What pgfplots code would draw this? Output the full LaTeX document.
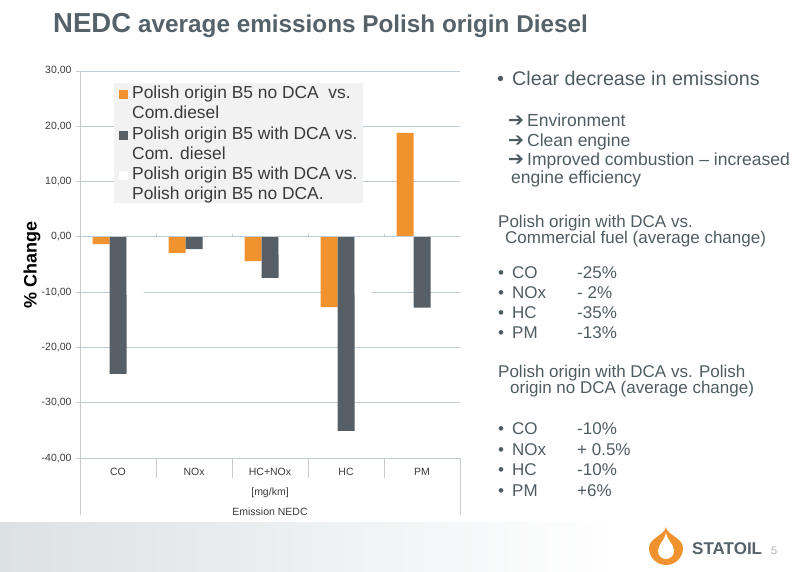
\documentclass[border=0pt]{standalone}
\usepackage{fontspec}
\setmainfont{Liberation Sans}
\newfontfamily\dejavu{DejaVu Sans}
\usepackage{pgfplots}
\pgfplotsset{compat=1.18}

\definecolor{bOrange}{HTML}{F0922E}
\definecolor{bGray}{HTML}{555F65}
\definecolor{gridc}{HTML}{BCCBD5}
\definecolor{axc}{HTML}{C5CBCF}
\definecolor{ttl}{HTML}{55626A}
\definecolor{txt}{HTML}{4E5C62}
\definecolor{lbl}{HTML}{3A3A3A}
\definecolor{legbg}{HTML}{F2F2F2}
\definecolor{band}{HTML}{DCE1E4}

\newcommand{\fs}[2]{\fontsize{#1}{#2}\selectfont}
\pgfplotsset{sqlegend/.style={legend image code/.code={\fill[##1] (0pt,3pt) rectangle (9pt,12pt);}}}

\begin{document}
\begin{tikzpicture}
% slide decorations, in image pixels (y downwards)
\begin{scope}[x=1pt,y=-1pt]
\useasboundingbox (0,0) rectangle (805,571);
\shade[left color=band, right color=white] (0,522) rectangle (620,571);
\node[anchor=base west, inner sep=0pt, text=ttl, font=\bfseries\fs{27.5}{30}] at (53,32) {NEDC};
\node[anchor=base west, inner sep=0pt, text=ttl, font=\bfseries\fs{24.3}{28}] at (138,32) {average emissions Polish origin Diesel};

% right-hand text
\begin{scope}[every node/.style={anchor=base west, inner sep=0pt, text=txt}]
\node[font=\fs{19.7}{22}] at (497,85) {•};
\node[font=\fs{19.7}{22}] at (512,85) {Clear decrease in emissions};
\foreach \t/\y in {Environment/126, Clean engine/146, Improved combustion – increased/165}{
  \node[font=\fs{19}{20}] at (508,\y) {{\dejavu\bfseries ➔}};
  \node[font=\fs{17.5}{18}] at (527,\y) {\t};
}
\node[font=\fs{17.5}{18}] at (511,183) {engine efficiency};
\node[font=\fs{17}{19}] at (498,227) {Polish origin with DCA vs.};
\node[font=\fs{17}{19}] at (505,243) {Commercial fuel (average change)};
\foreach \a/\b/\y in {CO/-25\%/278, NOx/-~2\%/298, HC/-35\%/318, PM/-13\%/338,
                       CO/-10\%/434, NOx/+ 0.5\%/455, HC/-10\%/475, PM/+6\%/496}{
  \node[font=\fs{17}{19}] at (498,\y) {•};
  \node[font=\fs{17}{19}] at (512,\y) {\a};
  \node[font=\fs{17}{19}] at (577,\y) {\b};
}
\node[font=\fs{17}{19}] at (498,377) {Polish origin with DCA vs. Polish};
\node[font=\fs{17}{19}] at (510,393) {origin no DCA (average change)};
\end{scope}

% logo
\fill[bOrange] (666,527) .. controls (665,535) and (649,538) .. (649,548)
  .. controls (649,557.4) and (656.6,565) .. (666,565)
  .. controls (675.4,565) and (683,557.4) .. (683,548)
  .. controls (683,538) and (667,535) .. (666,527) -- cycle;
\fill[white] (666,532) .. controls (665.5,540) and (658,544) .. (658,551)
  .. controls (658,555.4) and (661.6,559) .. (666,559)
  .. controls (670.4,559) and (674,555.4) .. (674,551)
  .. controls (674,544) and (666.5,540) .. (666,532) -- cycle;
\node[anchor=base west, inner sep=0pt, text=ttl, font=\bfseries\fs{17}{19}] at (692,554) {STATOIL};
\node[anchor=base west, inner sep=0pt, text=gray!60, font=\fs{11}{12}] at (771,554) {5};

% chart frame lines beyond the plot area
\draw[axc, line width=0.8pt] (80,71) -- (80,515);
\draw[axc, line width=0.8pt] (460,458) -- (460,515);
\end{scope}

\begin{axis}[
  at={(80pt,-458pt)}, anchor=south west,
  scale only axis, width=380pt, height=387pt,
  clip=false,
  ybar=0pt, bar width=17pt,
  xmin=-0.5, xmax=4.5, ymin=-40, ymax=30,
  xtick={0,1,2,3,4}, xticklabels={CO,NOx,HC+NOx,HC,PM},
  ytick={-40,-30,-20,-10,0,10,20,30},
  yticklabel={\pgfmathprintnumber[fixed,fixed zerofill,precision=2,use comma,assume math mode=true]{\tick}},
  axis x line*=bottom, axis y line*=left,
  x axis line style={draw=none},
  y axis line style={draw=none},
  xtick style={draw=none},
  ytick style={draw=axc, line width=0.8pt},
  tick align=outside, major tick length=4pt,
  ymajorgrids, grid style={draw=gridc, line width=0.9pt},
  yticklabel style={font=\fs{10.5}{12}, text=lbl, xshift=-1pt},
  xticklabel style={font=\fs{10.5}{12}, text=lbl, yshift=-3pt},
  xlabel={[mg/km]\\Emission NEDC},
  every axis x label/.style={at={(axis description cs:0.5,0)}, anchor=north, yshift=-26pt,
    align=center, font=\fs{10.5}{20}, text=lbl},
  ylabel={\% Change},
  every axis y label/.style={at={(axis description cs:-0.126,0.5)}, rotate=90, anchor=center,
    font=\bfseries\fs{18}{20}, text=black},
  every axis plot post/.append style={sqlegend},
  legend cell align=left,
  legend style={at={(axis description cs:0.0895,0.969)}, anchor=north west,
    fill=legbg, draw=none, font=\fs{17.4}{20}, text=lbl,
    inner xsep=5pt, inner ysep=1.5pt, row sep=5pt, column sep=4pt,
    nodes={inner sep=0pt}, cells={align=left}},
]
\addplot[fill=bOrange, draw=none] coordinates {(0,-1.3) (1,-2.9) (2,-4.4) (3,-12.7) (4,18.8)};
\addplot[fill=bGray, draw=none] coordinates {(0,-24.8) (1,-2.2) (2,-7.4) (3,-35.1) (4,-12.8)};
\addplot[fill=white, draw=none] coordinates {(0,-10.5) (1,0.5) (2,-3.2) (3,-10.5) (4,6)};
\addlegendentry{\strut Polish origin B5 no DCA\ \ vs.\\\strut Com.diesel}
\addlegendentry{\strut Polish origin B5 with DCA vs.\\\strut Com. diesel}
\addlegendentry{\strut Polish origin B5 with DCA vs.\\\strut Polish origin B5 no DCA.}
\draw[gridc, line width=0.9pt] (axis cs:-0.5,0) -- (axis cs:4.5,0);
\draw[gridc, line width=0.8pt] (axis cs:0.5,0) -- ++(0pt,3pt);
\draw[gridc, line width=0.8pt] (axis cs:1.5,0) -- ++(0pt,3pt);
\draw[gridc, line width=0.8pt] (axis cs:2.5,0) -- ++(0pt,3pt);
\draw[gridc, line width=0.8pt] (axis cs:3.5,0) -- ++(0pt,3pt);
\draw[axc, line width=0.8pt] (axis cs:0.5,-40) -- ++(0pt,-20pt);
\draw[axc, line width=0.8pt] (axis cs:1.5,-40) -- ++(0pt,-20pt);
\draw[axc, line width=0.8pt] (axis cs:2.5,-40) -- ++(0pt,-20pt);
\draw[axc, line width=0.8pt] (axis cs:3.5,-40) -- ++(0pt,-20pt);
\end{axis}
\end{tikzpicture}
\end{document}
